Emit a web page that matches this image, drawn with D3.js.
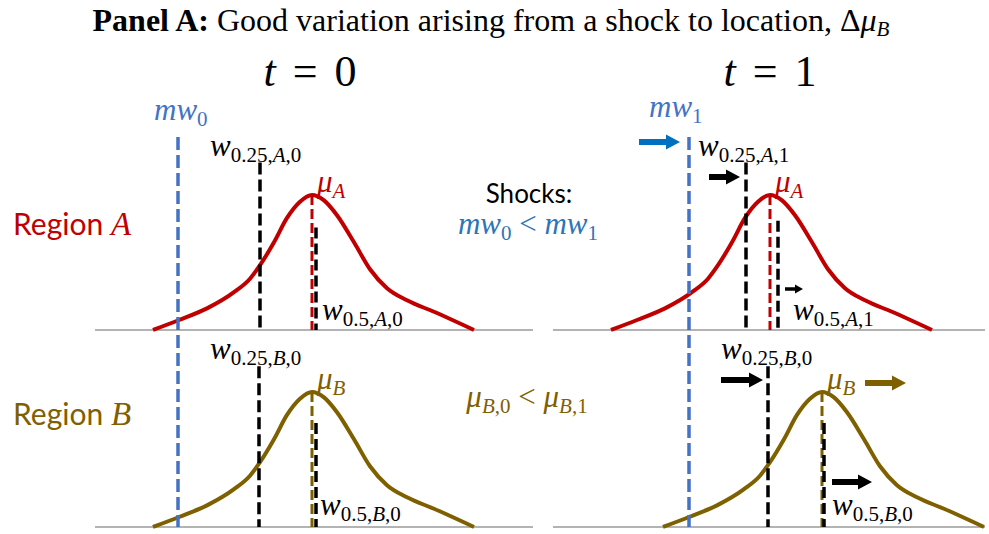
<!DOCTYPE html>
<html><head><meta charset="utf-8">
<script src="https://cdn.jsdelivr.net/npm/d3@7"></script>
<style>body{margin:0;background:#fff} svg{display:block}</style>
</head><body><svg id="c" width="989" height="534"></svg>
<script>
// ---------------- data ----------------
const periods = ["0", "1"];
const regions = ["A", "B"];
// stylised wage density: offset from the mean (wage units) and relative density
const densityOffset = [-15.9, -13.3, -10.5, -7.8, -6.2, -5.2, -3.8, -2.5, -1.2, 0, 1.2, 2.5, 4.2, 5.8, 7.5, 9.5, 12.2, 16.2];
const densityValue  = [0, 0.074, 0.16, 0.28, 0.38, 0.48, 0.65, 0.83, 0.95, 1, 0.96, 0.85, 0.65, 0.45, 0.31, 0.22, 0.135, 0];
// wage positions by period [t=0, t=1]
const minWage = [8.3, 13.6];
const meanA = [21.7, 21.7];
const meanB = [21.7, 26.9];
const q25A = [16.5, 19.3];
const q50A = [22.1, 22.5];
const q25B = [16.4, 21.5];
const q50B = [22.1, 27.1];
// heights (relative density) where the dashed markers start
const q25TopA = [1.24, 1.24];
const q25TopB = [1.19, 1.19];
const q50TopA = [0.76, 0.81];
const q50TopB = [0.77, 0.77];
const minWageTop = 1.43;
const axisEnd = [43.8, 43.2];

// ---------------- layout / style ----------------
const RED = "#C00000", OLIVE = "#7F6000", BLUE = "#4472C4", BLUE2 = "#2E75B6", BLUEARR = "#0070C0";
const MATH = "'Liberation Serif', serif";
const SANS = "Lato, 'Open Sans', sans-serif";
const panelX = [95, 553];
const baseY = [330, 527];
const svg = d3.select("#c");
const x = d3.scaleLinear().domain([0, 44]).range([0, 440]);
const y = d3.scaleLinear().domain([0, 1]).range([0, -135]);

// math text: letters italic, "_{..}" subscript
function math(sel, px, py, str, o) {
  const t = sel.append("text").attr("x", px).attr("y", py)
    .attr("font-family", MATH).attr("font-size", o.size).attr("fill", o.color)
    .attr("text-anchor", o.anchor || "start");
  const tokens = [];
  let i = 0;
  while (i < str.length) {
    if (str[i] === "_" && str[i + 1] === "{") {
      const j = str.indexOf("}", i);
      tokens.push({ s: str.slice(i + 2, j), sub: true });
      i = j + 1;
    } else {
      let j = i;
      while (j < str.length && !(str[j] === "_" && str[j + 1] === "{")) j++;
      tokens.push({ s: str.slice(i, j), sub: false });
      i = j;
    }
  }
  let shifted = false;
  tokens.forEach(tok => {
    const runs = tok.s.match(/([A-Za-zμ]+|[^A-Za-zμ]+)/g) || [];
    runs.forEach((r, k) => {
      const ts = t.append("tspan").text(r).attr("xml:space", "preserve");
      if (/[A-Za-zμ]/.test(r)) ts.attr("font-style", "italic");
      if (tok.sub) {
        ts.attr("font-size", o.sub);
        if (!shifted) { ts.attr("dy", o.shift); shifted = true; }
      } else if (shifted && k === 0) { ts.attr("dy", -o.shift); shifted = false; }
    });
  });
  return t;
}
const lab = { size: 31, sub: 21, shift: 6 };

function vline(g, wx, y0, y1, color, w, dash) {
  g.append("line").attr("x1", x(wx)).attr("x2", x(wx)).attr("y1", y0).attr("y2", y1)
    .attr("stroke", color).attr("stroke-width", w).attr("stroke-dasharray", dash);
}
function arrow(g, wx0, wx1, yy, color, s) {
  const x0 = x(wx0), x1 = x(wx1);
  const sh = s.shaft / 2, hh = s.head / 2, hl = s.len;
  g.append("path").attr("fill", color)
    .attr("d", `M${x0},${yy - sh}L${x1 - hl},${yy - sh}L${x1 - hl},${yy - hh}L${x1},${yy}L${x1 - hl},${yy + hh}L${x1 - hl},${yy + sh}L${x0},${yy + sh}Z`);
}
const big = { shaft: 6, head: 15, len: 14 }, small = { shaft: 3.5, head: 9, len: 8 };

// title
const title = svg.append("text").attr("x", 491).attr("y", 31).attr("text-anchor", "middle")
  .attr("font-family", "'Liberation Serif', 'Times New Roman', serif").attr("font-size", 32).attr("fill", "#000");
title.append("tspan").attr("font-weight", "bold").text("Panel A:");
title.append("tspan").text(" Good variation arising from a shock to location, Δ");
title.append("tspan").attr("font-style", "italic").text("μ");
title.append("tspan").attr("font-style", "italic").attr("font-size", 21).attr("dy", 5).text("B");

// period headings
periods.forEach((p, c) => {
  math(svg, [310, 770][c], 86, "t = " + p, { size: 44, sub: 30, shift: 0, color: "#000", anchor: "middle" })
    .attr("word-spacing", 6);
});

// region labels
const rcol = [RED, OLIVE];
regions.forEach((r, k) => {
  const t = svg.append("text").attr("x", 13).attr("y", [235, 425][k])
    .attr("font-family", SANS).attr("font-size", 30).attr("fill", rcol[k]);
  t.append("tspan").text("Region ");
  t.append("tspan").attr("font-family", MATH).attr("font-style", "italic").attr("font-size", 33).text(r);
});

// middle shock text
svg.append("text").attr("x", 529).attr("y", 203).attr("text-anchor", "middle")
  .attr("font-family", SANS).attr("font-size", 26).attr("fill", "#000").text("Shocks:");
math(svg, 528, 234, "mw_{0} < mw_{1}", { ...lab, color: BLUE2, anchor: "middle" });
math(svg, 527, 407, "μ_{B,0} < μ_{B,1}", { ...lab, color: OLIVE, anchor: "middle" });

const line = d3.line().x(d => x(d[0])).y(d => y(d[1])).curve(d3.curveMonotoneX);
const q25LabelDx = [[-50, -48], [-49, -47]];
const q50LabelDx = [[6, 15], [4, 8]];

periods.forEach((p, c) => {
  const means = [meanA[c], meanB[c]];
  const q25 = [q25A[c], q25B[c]], q50 = [q50A[c], q50B[c]];
  const q25Top = [q25TopA[c], q25TopB[c]], q50Top = [q50TopA[c], q50TopB[c]];
  const gp = svg.append("g").attr("transform", `translate(${panelX[c]},0)`);
  regions.forEach((r, k) => {
    const g = gp.append("g").attr("transform", `translate(0,${baseY[k]})`);
    g.append("line").attr("x1", x(0)).attr("x2", x(axisEnd[c])).attr("y1", 0).attr("y2", 0)
      .attr("stroke", "#9a9a9a").attr("stroke-width", 1.5);
    const pts = densityOffset.map((o, i) => [means[k] + o, densityValue[i]]);
    g.append("path").attr("d", line(pts)).attr("fill", "none").attr("stroke", rcol[k])
      .attr("stroke-width", 4).attr("stroke-linecap", "butt");
    vline(g, q25[k], y(q25Top[k]), 0, "#000", 3.5, "12,5");
    vline(g, means[k], y(1), 0, rcol[k], 3, "10,4");
    vline(g, q50[k], y(q50Top[k]), 0, "#000", 3.5, "11,5");
    const tag = r + "," + (k === 0 ? p : "0");
    math(g, x(q25[k]) + q25LabelDx[k][c], y(q25Top[k]) - 7, "w_{0.25," + tag + "}", { ...lab, color: "#000" });
    math(g, x(q50[k]) + q50LabelDx[k][c], k === 0 ? -10 : -12, "w_{0.5," + tag + "}", { ...lab, color: "#000" });
    math(g, x(means[k]) + 5, y(1) - 3, "μ_{" + r + "}", { ...lab, color: rcol[k] });
  });
  // minimum wage line spanning both rows
  vline(gp, minWage[c], baseY[0] + y(minWageTop), baseY[1], BLUE, 3.5, "13,5");
  math(gp, x(minWage[c]) + [-24, -40][c], [120, 117][c], "mw_{" + p + "}", { ...lab, color: BLUE });
});

// shift arrows (t = 1 panel)
const gR = svg.append("g").attr("transform", `translate(${panelX[1]},0)`);
arrow(gR, 8.6, 12.7, 142, BLUEARR, big);
arrow(gR, 15.6, 18.7, 177, "#000", big);
arrow(gR, 23.2, 25.0, 289, "#000", small);
arrow(gR, 16.8, 21.0, 380, "#000", big);
arrow(gR, 31.2, 35.3, 383, OLIVE, big);
arrow(gR, 27.9, 31.9, 482, "#000", big);
</script></body></html>
